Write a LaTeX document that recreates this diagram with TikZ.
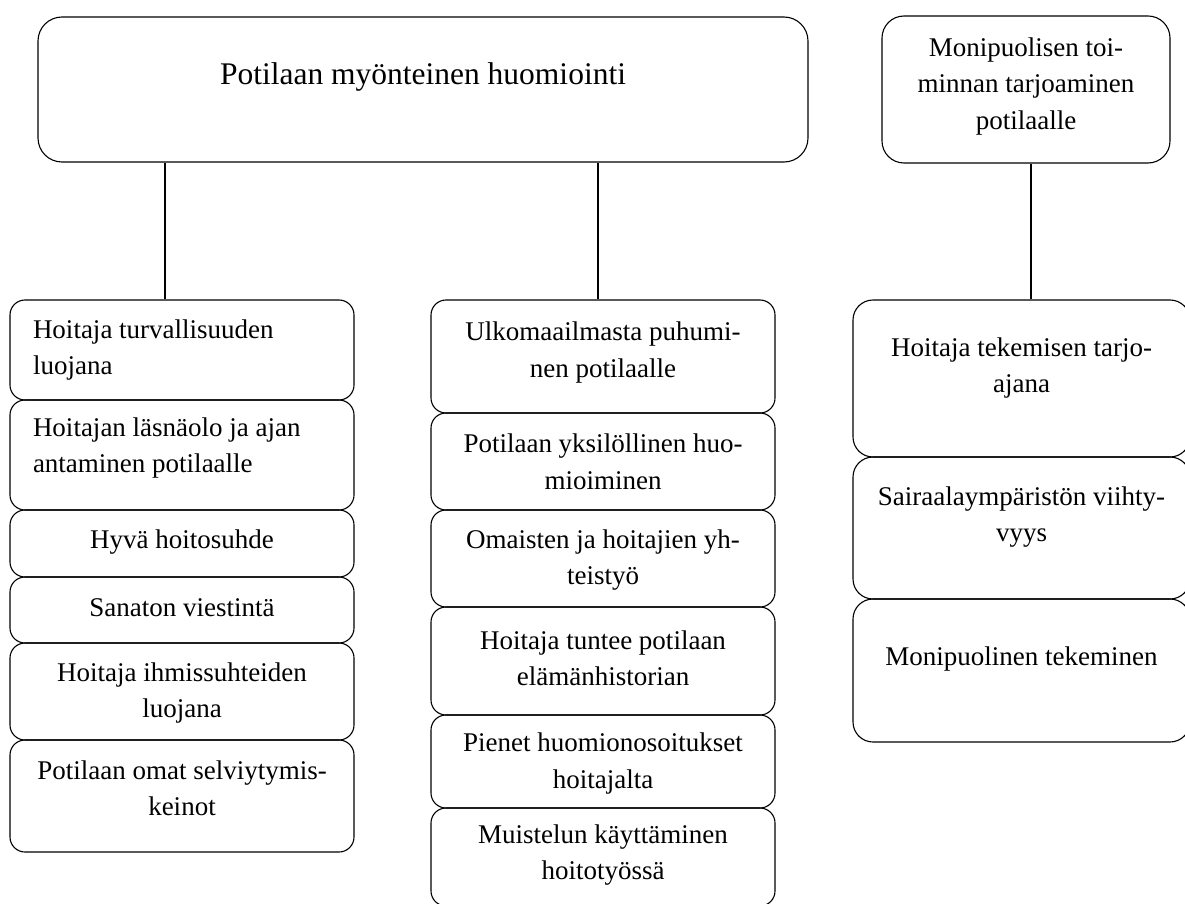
\documentclass[tikz,border=0pt]{standalone}
\usepackage{fontspec}
\setmainfont{Liberation Serif}
\usepackage{tikz}
\usepackage{xcolor}
\usetikzlibrary{calc}

\tikzset{
  cell/.style={draw, rounded corners=15pt, inner sep=0pt, line width=1.1pt},
  link/.style={line width=1.1pt},
}
% leveys, korkeus, nosto (2x), teksti
\newcommand{\celltext}[4]{\parbox[c][#2][c]{#1}{\centering #4\par\vspace*{#3}}}

\begin{document}
\begin{tikzpicture}[x=1pt, y=-1pt, font=\fontsize{27}{36.5}\selectfont]
\useasboundingbox (0,0) rectangle (1185,904);

% paaluokat
\node[cell, rounded corners=24pt] (huomiointi) at (423,89.5) {\celltext{770pt}{145pt}{25pt}{\fontsize{31.5}{38}\selectfont Potilaan myönteinen huomiointi}};
\node[cell, rounded corners=22pt] (toiminta) at (1026,89.5) {\celltext{288pt}{147pt}{6pt}{Monipuolisen toi-\\minnan tarjoaminen\\potilaalle}};

% vasen sarake
\node[cell, inner xsep=23pt] (turva) at (182,350) {\celltext{298pt}{100pt}{0pt}{\raggedright Hoitaja turvallisuuden\\luojana}};
\node[cell, inner xsep=23pt] (lasna) at (182,455) {\celltext{298pt}{110pt}{14pt}{\raggedright Hoitajan läsnäolo ja ajan\\antaminen potilaalle}};
\node[cell] (suhde) at (182,543.5) {\celltext{344pt}{67pt}{2pt}{Hyvä hoitosuhde}};
\node[cell] (sanaton) at (182,610) {\celltext{344pt}{66pt}{5pt}{Sanaton viestintä}};
\node[cell] (ihmis) at (182,691.5) {\celltext{344pt}{97pt}{-3pt}{Hoitaja ihmissuhteiden\\luojana}};
\node[cell] (keinot) at (182,796) {\celltext{344pt}{112pt}{15pt}{Potilaan omat selviytymis-\\keinot}};

% keskisarake
\node[cell] (ulko) at (603,356.5) {\celltext{344pt}{113pt}{8pt}{Ulkomaailmasta puhumi-\\nen potilaalle}};
\node[cell] (yksil) at (603,461.5) {\celltext{344pt}{97pt}{-1pt}{Potilaan yksilöllinen huo-\\mioiminen}};
\node[cell] (omaiset) at (603,558.5) {\celltext{344pt}{97pt}{-3pt}{Omaisten ja hoitajien yh-\\teistyö}};
\node[cell] (historia) at (603,661) {\celltext{344pt}{108pt}{5pt}{Hoitaja tuntee potilaan\\elämänhistorian}};
\node[cell] (pienet) at (603,761.5) {\celltext{344pt}{93pt}{-4pt}{Pienet huomionosoitukset\\hoitajalta}};
\node[cell] (muistelu) at (603,857) {\celltext{344pt}{98pt}{4pt}{Muistelun käyttäminen\\hoitotyössä}};

% oikea sarake
\node[cell, rounded corners=20pt] (tarjoaja) at (1021.5,378.5) {\celltext{337pt}{157pt}{21pt}{Hoitaja tekemisen tarjo-\\ajana}};
\node[cell, rounded corners=20pt] (viihtyvyys) at (1021.5,528) {\celltext{337pt}{142pt}{22pt}{Sairaalaympäristön viihty-\\vyys}};
\node[cell, rounded corners=20pt] (tekeminen) at (1021.5,670.5) {\celltext{337pt}{143pt}{23pt}{Monipuolinen tekeminen}};

% yhteydet
\draw[link] ($(turva.north |- huomiointi.south)+(-17,0)$) -- ($(turva.north)+(-17,0)$);
\draw[link] ($(ulko.north |- huomiointi.south)+(-5,0)$) -- ($(ulko.north)+(-5,0)$);
\draw[link] ($(toiminta.south)+(5,0)$) -- ($(toiminta.south |- tarjoaja.north)+(5,0)$);
\end{tikzpicture}
\end{document}
